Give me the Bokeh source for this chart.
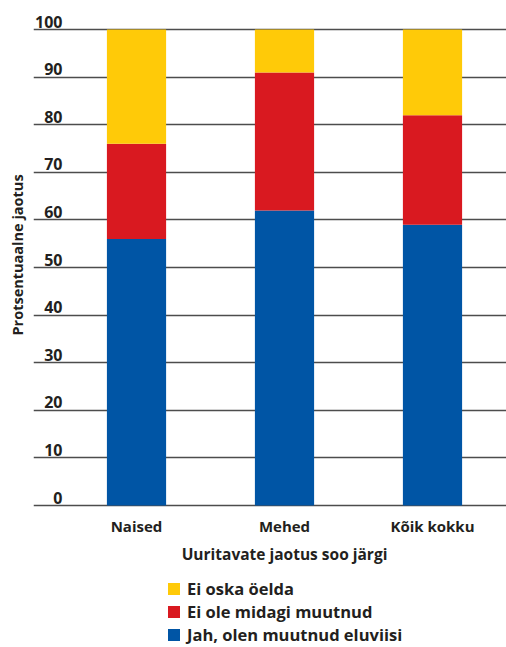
from bokeh.plotting import figure
from bokeh.models import (ColumnDataSource, Range1d, FixedTicker, Title,
                          Label, LabelSet, Legend, LegendItem)
from bokeh.core.properties import value
from bokeh.embed import file_html
from bokeh.resources import INLINE

categories = ["Naised", "Mehed", "Kõik kokku"]
jah = [56, 62, 59]
ei_ole = [20, 29, 23]
ei_oska = [24, 9, 18]
series_keys = ["jah", "ei_ole", "ei_oska"]
series_names = ["Jah, olen muutnud eluviisi", "Ei ole midagi muutnud", "Ei oska öelda"]
y_ticks = list(range(0, 101, 10))
y_tick_labels = [str(t) for t in y_ticks]
y_title = "Protsentuaalne jaotus"
x_title = "Uuritavate jaotus soo järgi"

FONT = "Open Sans"
TXT = "#231f20"
GRID = "#4d4d4d"
colors = ["#0055A5", "#D91920", "#FFCA08"]

# category slots: slot i spans [i, i+1], bar at its centre
xpos = [i + 0.5 for i in range(len(categories))]
x_mid = (xpos[0] + xpos[-1]) / 2
src = ColumnDataSource(dict(x=xpos, cat=categories, jah=jah, ei_ole=ei_ole, ei_oska=ei_oska))

p = figure(frame_width=473, frame_height=637,
           x_range=Range1d(-0.196, 3.0),
           y_range=Range1d(-29.83, 104.0),
           x_axis_location=None, y_axis_location=None,
           output_backend="svg", toolbar_location=None,
           min_border_left=33, min_border_right=0, min_border_top=10,
           min_border_bottom=0)
p.outline_line_color = None
p.background_fill_color = "white"
p.border_fill_color = "white"

renderers = p.vbar_stack(series_keys, x="x", width=0.4, color=colors,
                         line_color=None, source=src)

p.xgrid.visible = False
p.ygrid.ticker = FixedTicker(ticks=y_ticks)
p.ygrid.grid_line_color = GRID
p.ygrid.grid_line_width = 1.5

# vertical axis title
p.add_layout(Title(text=y_title, align="left", vertical_align="middle",
                   offset=312, standoff=11, text_font=FONT, text_font_style="bold",
                   text_font_size="14.5px", text_color=TXT), "left")

# y tick labels sitting just above their grid lines
for t, s in zip(y_ticks, y_tick_labels):
    p.add_layout(Label(x=0, y=t, text=s, text_align="right", text_baseline="bottom",
                       y_offset=2, text_font=FONT, text_font_style="bold",
                       text_font_size="16px", text_color=TXT))

# category labels under the bars
p.add_layout(LabelSet(x="x", y=0, text="cat", source=src, y_offset=-20,
                      text_align="center", text_baseline="middle",
                      text_font=value(FONT), text_font_style="bold",
                      text_font_size="15px", text_color=TXT))

# x axis title
p.add_layout(Label(x=x_mid, y=0, text=x_title, y_offset=-48,
                   text_align="center", text_baseline="middle",
                   text_font=FONT, text_font_style="bold",
                   text_font_size="15.5px", text_color=TXT))

items = [LegendItem(label=series_names[i], renderers=[renderers[i]]) for i in reversed(range(3))]
legend = Legend(items=items, location=(133, 1), orientation="vertical",
                glyph_width=15, glyph_height=15, label_height=15, label_standoff=6,
                spacing=-3, padding=0, margin=0, border_line_color=None,
                background_fill_alpha=0,
                label_text_font=FONT, label_text_font_style="bold",
                label_text_font_size="16.5px", label_text_color=TXT)
p.add_layout(legend)

open("out.html", "w").write(file_html(p, INLINE))
